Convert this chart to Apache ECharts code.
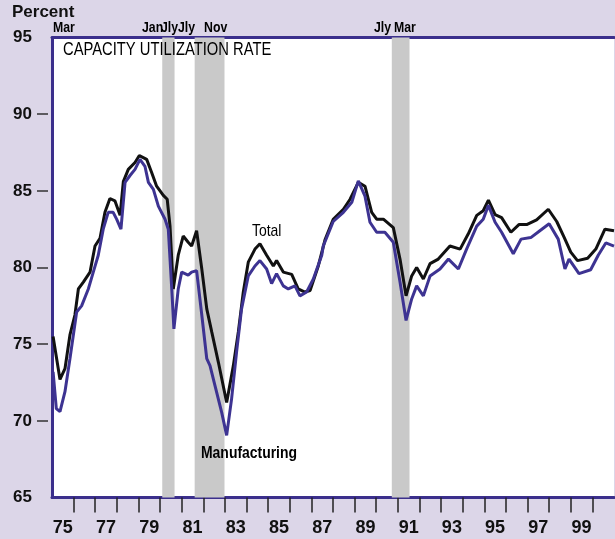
<!DOCTYPE html>
<html>
<head>
<meta charset="utf-8">
<script src="https://cdn.jsdelivr.net/npm/echarts@6/dist/echarts.min.js"></script>
<style>
  html, body { margin: 0; padding: 0; background: #dcd6e8; }
  #chart { width: 615px; height: 539px; }
</style>
</head>
<body>
<div id="chart"></div>
<script>
// [decimal year, percent]
const totalPoints = [
  [1975.05, 75.5], [1975.37, 72.7], [1975.6, 73.4], [1975.83, 75.6], [1976.06, 76.9],
  [1976.22, 78.6], [1976.45, 79.05], [1976.76, 79.7], [1976.99, 81.4], [1977.22, 81.9],
  [1977.45, 83.6], [1977.68, 84.5], [1977.91, 84.35], [1978.15, 83.4], [1978.3, 85.6],
  [1978.53, 86.4], [1978.84, 86.85], [1979.04, 87.3], [1979.38, 87.05], [1979.61, 86.2],
  [1979.84, 85.3], [1980.15, 84.7], [1980.33, 84.45], [1980.46, 82.7], [1980.61, 78.6],
  [1980.84, 80.8], [1981.07, 82.05], [1981.3, 81.65], [1981.46, 81.4], [1981.69, 82.4],
  [1981.93, 79.9], [1982.16, 77.3], [1982.39, 75.8], [1982.7, 73.8], [1983.08, 71.2],
  [1983.39, 73.6], [1983.62, 75.8], [1983.85, 78.4], [1984.08, 80.35], [1984.39, 81.2],
  [1984.62, 81.55], [1984.93, 80.8], [1985.24, 80.1], [1985.39, 80.45], [1985.7, 79.7],
  [1986.09, 79.55], [1986.39, 78.6], [1986.7, 78.4], [1986.94, 78.5], [1987.32, 80.1],
  [1987.63, 81.8], [1988.01, 83.15], [1988.48, 83.8], [1988.79, 84.45], [1989.17, 85.55],
  [1989.48, 85.3], [1989.79, 83.6], [1990.02, 83.15], [1990.33, 83.15], [1990.79, 82.6],
  [1991.1, 80.55], [1991.38, 78.15], [1991.64, 79.45], [1991.87, 80.0], [1992.18, 79.25],
  [1992.49, 80.25], [1992.87, 80.55], [1993.41, 81.4], [1993.88, 81.2], [1994.26, 82.2],
  [1994.65, 83.4], [1994.95, 83.7], [1995.19, 84.4], [1995.5, 83.45], [1995.8, 83.25],
  [1996.23, 82.3], [1996.6, 82.8], [1996.96, 82.8], [1997.42, 83.1], [1997.96, 83.8],
  [1998.35, 83.0], [1998.7, 81.95], [1999.0, 81.0], [1999.31, 80.45], [1999.78, 80.6],
  [2000.16, 81.2], [2000.58, 82.5], [2001.0, 82.4]
];

const mfgPoints = [
  [1975.05, 73.2], [1975.2, 70.8], [1975.37, 70.6], [1975.6, 71.9], [1975.83, 74.05],
  [1976.14, 77.1], [1976.37, 77.5], [1976.68, 78.6], [1976.91, 79.7], [1977.14, 80.8],
  [1977.37, 82.5], [1977.6, 83.6], [1977.83, 83.6], [1977.99, 83.15], [1978.19, 82.5],
  [1978.38, 85.55], [1978.61, 86.0], [1978.84, 86.4], [1979.07, 87.05], [1979.3, 86.6],
  [1979.46, 85.55], [1979.69, 85.1], [1979.92, 84.0], [1980.23, 83.15], [1980.38, 82.5],
  [1980.54, 78.6], [1980.64, 76.0], [1980.84, 78.6], [1981.0, 79.7], [1981.3, 79.5],
  [1981.46, 79.7], [1981.69, 79.8], [1981.93, 76.9], [1982.16, 74.05], [1982.31, 73.6],
  [1982.54, 72.3], [1982.85, 70.55], [1983.08, 69.05], [1983.31, 71.45], [1983.54, 74.5],
  [1983.77, 77.3], [1984.08, 79.45], [1984.39, 80.1], [1984.62, 80.45], [1984.93, 79.9],
  [1985.16, 78.95], [1985.39, 79.6], [1985.7, 78.8], [1985.93, 78.6], [1986.24, 78.8],
  [1986.47, 78.15], [1986.78, 78.4], [1987.09, 79.25], [1987.48, 80.8], [1987.55, 81.4],
  [1988.01, 83.0], [1988.48, 83.6], [1988.87, 84.25], [1989.17, 85.65], [1989.48, 84.65],
  [1989.71, 82.95], [1990.02, 82.3], [1990.4, 82.3], [1990.79, 81.65], [1991.1, 79.05],
  [1991.38, 76.55], [1991.64, 77.95], [1991.87, 78.8], [1992.18, 78.15], [1992.49, 79.45],
  [1992.95, 79.9], [1993.34, 80.55], [1993.8, 79.9], [1994.18, 81.2], [1994.65, 82.7],
  [1994.95, 83.15], [1995.19, 84.05], [1995.5, 82.95], [1995.8, 82.3], [1996.34, 80.9],
  [1996.7, 81.85], [1997.15, 81.95], [1997.57, 82.4], [1998.0, 82.85], [1998.42, 81.85],
  [1998.73, 79.9], [1998.92, 80.55], [1999.38, 79.6], [1999.92, 79.85], [2000.27, 80.8],
  [2000.62, 81.6], [2001.0, 81.4]
];

// shaded recessions [start, end] in decimal years
const recessions = [[1980.1, 1980.67], [1981.6, 1982.98], [1990.72, 1991.54]];

const tickYears = [];
for (let y = 1976; y <= 2000; y++) tickYears.push(y);
const labelYears = [1975, 1977, 1979, 1981, 1983, 1985, 1987, 1989, 1991, 1993, 1995, 1997, 1999];
const yTicks = [70, 75, 80, 85, 90];

const frame = "#3b2f8c";
const sans = "'Liberation Sans', Arial, sans-serif";

// condensed text: no narrow face installed, so squeeze it horizontally
function note(text, x, y, size, bold) {
  return {
    type: "text",
    x: x,
    y: y,
    scaleX: 0.82,
    z: 100,
    style: {
      text: text,
      fill: "#000",
      font: (bold ? "bold " : "") + size + "px " + sans,
      verticalAlign: "top",
    },
  };
}

const chart = echarts.init(document.getElementById("chart"));

const option = {
  backgroundColor: "#dcd6e8",
  animation: false,
  grid: {
    left: 52,
    right: 1,
    top: 37.5,
    bottom: 41.5,
    show: true,
    backgroundColor: "#ffffff",
    borderWidth: 0,
  },
  xAxis: [
    {
      type: "value",
      min: 1975,
      max: 2001,
      position: "bottom",
      axisLine: { show: true, lineStyle: { color: frame, width: 3 } },
      axisTick: {
        show: true,
        length: 15,
        customValues: tickYears,
        lineStyle: { color: "#222", width: 1.5 },
      },
      axisLabel: {
        customValues: labelYears.map((y) => y + 0.5),
        formatter: (v) => String(Math.floor(v)).slice(2),
        color: "#111",
        fontFamily: sans,
        fontWeight: "bold",
        fontSize: 18,
        margin: 22,
      },
      splitLine: { show: false },
    },
    {
      type: "value",
      min: 1975,
      max: 2001,
      position: "top",
      axisLine: { show: true, lineStyle: { color: frame, width: 3 } },
      axisTick: { show: false },
      axisLabel: { show: false },
      splitLine: { show: false },
    },
  ],
  yAxis: [
    {
      type: "value",
      min: 65,
      max: 95,
      interval: 5,
      position: "left",
      axisLine: { show: true, lineStyle: { color: frame, width: 3 } },
      axisTick: { show: false },
      axisLabel: { show: false },
      splitLine: { show: false },
    },
    {
      type: "value",
      min: 65,
      max: 95,
      interval: 5,
      position: "left",
      offset: 4,
      axisLine: { show: false },
      axisTick: {
        show: true,
        length: 11,
        customValues: yTicks,
        lineStyle: { color: "#333", width: 1.5 },
      },
      axisLabel: {
        color: "#111",
        fontFamily: sans,
        fontWeight: "bold",
        fontSize: 17,
        margin: 16,
        padding: [7, 0, 0, 0],
      },
      splitLine: { show: false },
    },
  ],
  series: [
    {
      name: "Total",
      type: "line",
      data: totalPoints,
      showSymbol: false,
      lineStyle: { color: "#111111", width: 3 },
      markArea: {
        silent: true,
        itemStyle: { color: "#c9c9c9" },
        data: recessions.map((r) => [{ xAxis: r[0] }, { xAxis: r[1] }]),
      },
      z: 2,
    },
    {
      name: "Manufacturing",
      type: "line",
      data: mfgPoints,
      showSymbol: false,
      lineStyle: { color: "#3d3392", width: 3 },
      z: 3,
    },
  ],
  graphic: [
    {
      type: "text",
      x: 12,
      y: 4,
      z: 100,
      style: { text: "Percent", fill: "#111", font: "bold 17px " + sans, verticalAlign: "top" },
    },
    note("CAPACITY UTILIZATION RATE", 63, 41, 18, false),
    note("Mar", 53, 20, 15, true),
    note("Jan", 142, 20, 15, true),
    note("Jly", 161, 20, 15, true),
    note("Jly", 178, 20, 15, true),
    note("Nov", 204, 20, 15, true),
    note("Jly", 374, 20, 15, true),
    note("Mar", 394, 20, 15, true),
    note("Total", 252, 223, 17, false),
    note("Manufacturing", 201, 445, 17, true),
  ],
};

chart.setOption(option);
</script>
</body>
</html>
